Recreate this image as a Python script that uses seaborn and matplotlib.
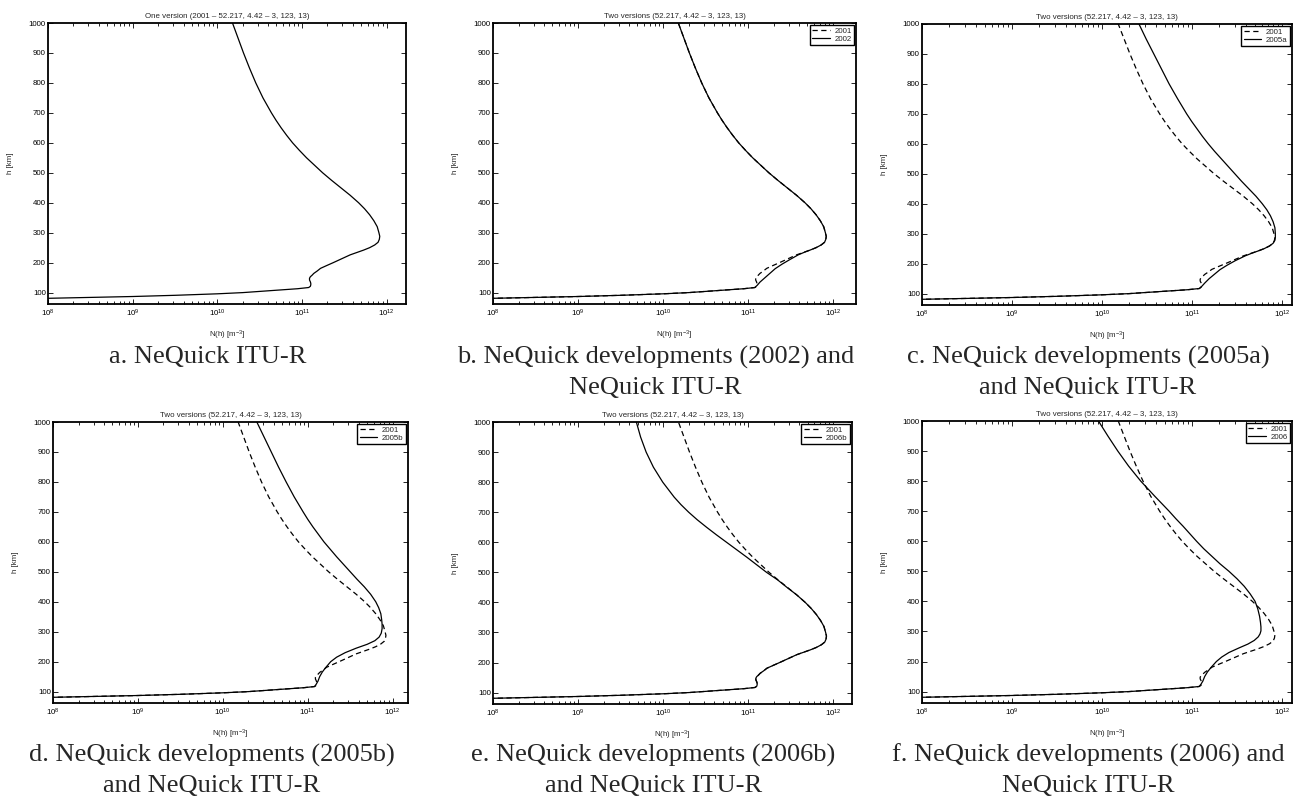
import numpy as np
import pandas as pd
import matplotlib
matplotlib.use("Agg")
import matplotlib.pyplot as plt
import seaborn as sns
from matplotlib.ticker import LogLocator, NullFormatter, FixedLocator

# ---------------- data (log10 of N(h) [m^-3]) ----------------
H_LOW = [79, 81, 84, 87, 91, 96, 100, 104, 109, 113]
LOG_LOW = [7.85, 8.0, 8.5, 9.0, 9.5, 10.0, 10.3, 10.5, 10.75, 10.95]

H_2001 = [117, 121, 126, 131, 136, 142, 148, 153, 158, 164, 172, 181, 190, 200, 213, 226, 235, 242, 250, 259,
          268, 278, 288, 300, 320, 340, 360, 380, 400, 425, 450, 475, 500, 525, 550, 575, 600, 625, 650, 675,
          700, 750, 800, 850, 900, 950, 1000, 1010]
LOG_2001 = [11.08, 11.10, 11.105, 11.105, 11.10, 11.09, 11.09, 11.10, 11.12, 11.14, 11.18, 11.22, 11.29, 11.37,
            11.47, 11.57, 11.66, 11.73, 11.80, 11.86, 11.90, 11.915, 11.92, 11.91, 11.89, 11.85, 11.80, 11.74,
            11.67, 11.57, 11.46, 11.35, 11.245, 11.15, 11.055, 10.97, 10.89, 10.82, 10.755, 10.695, 10.64, 10.54,
            10.455, 10.38, 10.31, 10.245, 10.18, 10.17]

H_2002 = [117, 125, 135, 145, 155, 165, 180, 195, 210, 226, 235, 242, 250, 259, 268, 278, 288, 300, 320, 340,
          360, 380, 400, 425, 450, 475, 500, 525, 550, 575, 600, 625, 650, 675, 700, 750, 800, 850, 900, 950,
          1000, 1010]
LOG_2002 = [11.08, 11.11, 11.14, 11.18, 11.22, 11.26, 11.32, 11.40, 11.49, 11.59, 11.665, 11.73, 11.80, 11.86,
            11.90, 11.915, 11.92, 11.91, 11.89, 11.85, 11.80, 11.74, 11.67, 11.57, 11.46, 11.35, 11.245, 11.15,
            11.055, 10.97, 10.89, 10.82, 10.755, 10.695, 10.64, 10.54, 10.455, 10.38, 10.31, 10.245, 10.18, 10.17]

H_2005A = [117, 125, 135, 150, 165, 180, 195, 210, 226, 235, 242, 250, 259, 268, 278, 288, 300, 320, 340, 360,
           380, 400, 425, 450, 475, 500, 525, 550, 575, 600, 625, 650, 675, 700, 750, 800, 850, 900, 950, 1000,
           1010]
LOG_2005A = [11.08, 11.11, 11.14, 11.19, 11.25, 11.31, 11.39, 11.48, 11.59, 11.665, 11.73, 11.80, 11.86, 11.90,
             11.92, 11.925, 11.925, 11.92, 11.90, 11.87, 11.83, 11.78, 11.71, 11.63, 11.55, 11.475, 11.40, 11.325,
             11.25, 11.18, 11.115, 11.055, 10.995, 10.94, 10.84, 10.745, 10.66, 10.575, 10.49, 10.41, 10.40]

H_2005B = [117, 125, 135, 150, 165, 180, 200, 215, 230, 245, 258, 270, 282, 295, 310, 325, 340, 360, 380, 400,
           425, 450, 475, 500, 525, 550, 575, 600, 625, 650, 675, 700, 750, 800, 850, 900, 950, 1000, 1010]
LOG_2005B = [11.08, 11.10, 11.12, 11.14, 11.17, 11.21, 11.27, 11.34, 11.44, 11.57, 11.70, 11.79, 11.84, 11.865,
             11.875, 11.875, 11.87, 11.86, 11.835, 11.80, 11.74, 11.665, 11.58, 11.50, 11.42, 11.34, 11.265, 11.19,
             11.125, 11.06, 11.00, 10.945, 10.84, 10.745, 10.655, 10.57, 10.485, 10.40, 10.39]

H_2006B = [117, 121, 126, 131, 136, 142, 148, 153, 158, 164, 172, 181, 190, 200, 213, 226, 235, 242, 250, 259,
           268, 278, 288, 300, 320, 340, 360, 380, 400, 425, 450, 475, 500, 525, 550, 575, 600, 625, 650, 675,
           700, 725, 750, 800, 850, 900, 950, 1000, 1010]
LOG_2006B = [11.08, 11.10, 11.105, 11.105, 11.10, 11.09, 11.09, 11.10, 11.12, 11.14, 11.18, 11.22, 11.29, 11.37,
             11.47, 11.57, 11.66, 11.73, 11.80, 11.86, 11.90, 11.915, 11.92, 11.91, 11.89, 11.85, 11.80, 11.74,
             11.67, 11.57, 11.455, 11.345, 11.215, 11.10, 10.985, 10.865, 10.745, 10.625, 10.51, 10.40, 10.30,
             10.21, 10.13, 9.995, 9.885, 9.80, 9.735, 9.685, 9.675]

H_2006 = [117, 125, 135, 150, 165, 180, 200, 215, 230, 245, 258, 270, 282, 292, 302, 315, 330, 350, 375, 400,
          425, 450, 475, 500, 525, 550, 575, 600, 625, 650, 675, 700, 750, 800, 850, 900, 950, 1000, 1010]
LOG_2006 = [11.08, 11.10, 11.12, 11.14, 11.17, 11.21, 11.27, 11.33, 11.41, 11.52, 11.62, 11.69, 11.735, 11.755,
            11.765, 11.765, 11.76, 11.75, 11.73, 11.70, 11.645, 11.58, 11.50, 11.41, 11.31, 11.22, 11.13,
            11.05, 10.975, 10.90, 10.82, 10.745, 10.585, 10.43, 10.295, 10.175, 10.065, 9.96, 9.935]

SERIES = {
    "2001": (H_2001, LOG_2001),
    "2002": (H_2002, LOG_2002),
    "2005a": (H_2005A, LOG_2005A),
    "2005b": (H_2005B, LOG_2005B),
    "2006b": (H_2006B, LOG_2006B),
    "2006": (H_2006, LOG_2006),
}

TITLE_ONE = "One version (2001 \u2013 52.217, 4.42 \u2013 3, 123, 13)"
TITLE_TWO = "Two versions (52.217, 4.42 \u2013 3, 123, 13)"
CAPTIONS = [
    ["a. NeQuick ITU-R"],
    ["b. NeQuick developments (2002) and", "NeQuick ITU-R"],
    ["c. NeQuick developments (2005a)", "and NeQuick ITU-R"],
    ["d. NeQuick developments (2005b)", "and NeQuick ITU-R"],
    ["e. NeQuick developments (2006b)", "and NeQuick ITU-R"],
    ["f. NeQuick developments (2006) and", "NeQuick ITU-R"],
]
COMPARE = [None, "2002", "2005a", "2005b", "2006b", "2006"]

# ---------------- style ----------------
sns.set_style("ticks")
plt.rcParams["font.family"] = ["Liberation Sans", "DejaVu Sans"]
plt.rcParams["mathtext.default"] = "regular"

W, HGT = 1301, 800
fig = plt.figure(figsize=(W / 100, HGT / 100), dpi=100)

# axes boxes in pixels: left, right, top, bottom ; and right x-limit exponent
BOXES = [
    (48, 406, 23, 304, 12.23),
    (493, 856, 23, 304, 12.27),
    (922, 1292, 24, 305, 12.11),
    (53, 408, 422, 703, 12.18),
    (493, 852, 422, 704, 12.22),
    (922, 1292, 421, 703, 12.11),
]

FS = 5.7
DASH = (0, (4.2, 2.8))


def profile(key):
    h, lg = SERIES[key]
    hh = np.array(H_LOW + list(h), dtype=float)
    nn = 10.0 ** np.array(LOG_LOW + list(lg), dtype=float)
    return pd.DataFrame({"N": nn, "h": hh})


for i, (l, r, t, b, xr) in enumerate(BOXES):
    ax = fig.add_axes([l / W, 1 - b / HGT, (r - l) / W, (b - t) / HGT])
    comp = COMPARE[i]
    if comp is None:
        d = profile("2001")
        sns.lineplot(data=d, x="N", y="h", sort=False, estimator=None, ax=ax,
                     color="black", lw=0.9, legend=False)
        ax.set_title(TITLE_ONE, fontsize=FS, pad=3.5)
    else:
        d1 = profile("2001")
        d2 = profile(comp)
        sns.lineplot(data=d1, x="N", y="h", sort=False, estimator=None, ax=ax,
                     color="black", lw=0.9, linestyle=DASH, label="2001", legend=False)
        sns.lineplot(data=d2, x="N", y="h", sort=False, estimator=None, ax=ax,
                     color="black", lw=0.9, label=comp, legend=False)
        ax.set_title(TITLE_TWO, fontsize=FS, pad=3.5)
        lines = ax.get_lines()
        leg = ax.legend(lines[:2], ["2001", comp], loc="upper right", fontsize=FS,
                        frameon=True, fancybox=False, framealpha=1, edgecolor="black",
                        borderpad=0.3, handlelength=2.2, handletextpad=0.6,
                        labelspacing=0.05, borderaxespad=0.25)
        leg.get_frame().set_linewidth(1.0)

    ax.set_xscale("log")
    ax.set_xlim(1e8, 10 ** xr)
    ax.set_ylim(62, 1000)
    ax.yaxis.set_major_locator(FixedLocator(list(range(100, 1001, 100))))
    ax.xaxis.set_major_locator(LogLocator(base=10, numticks=12))
    ax.xaxis.set_minor_locator(LogLocator(base=10, subs=np.arange(2, 10), numticks=12))
    ax.xaxis.set_minor_formatter(NullFormatter())
    ax.tick_params(which="both", direction="in", top=True, right=True, labelsize=FS,
                   colors="black", width=0.6)
    ax.tick_params(which="major", length=3.5)
    ax.tick_params(which="minor", length=2.0)
    ax.tick_params(axis="y", pad=1.5)
    ax.tick_params(axis="x", pad=3)
    for s in ax.spines.values():
        s.set_linewidth(1.3)
        s.set_color("black")
    ax.set_xlabel("N(h) [m$^{-3}$]", fontsize=FS, labelpad=7)
    ax.set_ylabel("h [km]", fontsize=FS, labelpad=11)

    cx = (l + r) / 2 - 19
    y0 = 357 if i < 3 else 755
    for k, line in enumerate(CAPTIONS[i]):
        fig.text(cx / W, 1 - (y0 + 31 * k) / HGT, line, ha="center", va="center",
                 fontsize=19, family=["Liberation Serif", "DejaVu Serif"])

fig.savefig("out.png", dpi=100, facecolor="white")
